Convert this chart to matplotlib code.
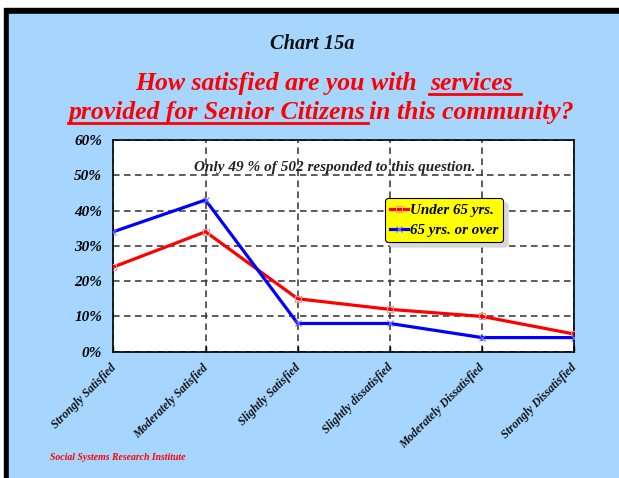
import numpy as np
import matplotlib
matplotlib.use("Agg")
import matplotlib.pyplot as plt
from matplotlib.patches import Rectangle
from matplotlib.transforms import ScaledTranslation

# Datos
categorias = ["Strongly Satisfied", "Moderately Satisfied", "Slightly Satisfied",
              "Slightly dissatisfied", "Moderately Dissatisfied", "Strongly Dissatisfied"]
menores_65 = [24, 34, 15, 12, 10, 5]
mayores_65 = [34, 43, 8, 8, 4, 4]
y_ticks = [0, 10, 20, 30, 40, 50, 60]

FAM = "Liberation Serif"
AZUL = "#a6d5fe"
W, H = 619, 478

fig = plt.figure(figsize=(W / 100, H / 100), dpi=100, facecolor="white")

# marco negro y fondo azul
fig.patches.append(Rectangle((4 / W, 0), 1 - 4 / W, (H - 8) / H,
                             transform=fig.transFigure, color="black", zorder=-2))
fig.patches.append(Rectangle((9 / W, 0), 1 - 9 / W, (H - 14) / H,
                             transform=fig.transFigure, color=AZUL, zorder=-1))

ax = fig.add_axes([113.3 / W, (H - 351.7) / H, (574.3 - 113.3) / W, (351.7 - 140) / H])
ax.set_facecolor("white")

x = np.arange(len(categorias))
ax.plot(x, menores_65, color="#ff0000", lw=2.3, marker="s", ms=5, mfc="none",
        mec="#ff9090", mew=0.8, label="Under 65 yrs.", zorder=3)
ax.plot(x, mayores_65, color="#0000ff", lw=2.3, marker="x", ms=5,
        mec="#7070ff", mew=0.8, label="65 yrs. or over", zorder=3)

ax.set_xlim(0, len(categorias) - 1)
ax.set_ylim(0, 60)
ax.set_yticks(y_ticks)
ax.set_yticklabels([f"{v}%" for v in y_ticks], fontfamily=FAM, fontweight="bold",
                   fontstyle="italic", fontsize=11)
ax.set_xticks(x)
ax.set_xticklabels([])
ax.tick_params(axis="x", direction="in", length=4, width=1)
ax.tick_params(axis="y", length=0, pad=8)

# etiquetas del eje x giradas
off = ScaledTranslation(5 / 100, -10 / 100, fig.dpi_scale_trans)
for xi, cat in zip(x, categorias):
    ax.text(xi, 0, cat, transform=ax.get_xaxis_transform() + off, rotation=45,
            ha="right", va="top", fontfamily=FAM, fontweight="bold",
            fontstyle="italic", fontsize=8.5, color="#111111")

ax.grid(True, color="#303030", lw=1.1, linestyle=(0, (4.3, 2.9)))
ax.set_axisbelow(True)
for s in ax.spines.values():
    s.set_color("black")
    s.set_linewidth(1.2)

leg = ax.legend(loc="upper left", bbox_to_anchor=(0.589, 0.726), frameon=True,
                fancybox=True, facecolor="#ffff00", edgecolor="black", framealpha=1,
                shadow={"color": "#d8d8d8", "ox": 3.5, "oy": -3.5, "alpha": 1},
                handlelength=1.2, handletextpad=0.1, borderpad=0.35, labelspacing=0.45,
                borderaxespad=0,
                prop={"family": FAM, "weight": "bold", "style": "italic", "size": 10.8})
leg.get_frame().set_linewidth(0.8)

ax.text(0.481, 0.868, "Only 49 % of 502 responded to this question.", transform=ax.transAxes,
        ha="center", va="center", fontfamily=FAM, fontweight="bold", fontstyle="italic",
        fontsize=11, color="#222222")

# títulos
fig.text(312 / W, 1 - 44 / H, "Chart 15a", ha="center", va="center", fontfamily=FAM,
         fontweight="bold", fontstyle="italic", fontsize=14.7, color="#111111")

tprops = dict(fontfamily=FAM, fontweight="bold", fontstyle="italic", fontsize=18.5,
              color="#ff0000", va="baseline", ha="left")
renderer = fig.canvas.get_renderer()


def ancho(s):
    t = fig.text(0, 0, s, **tprops)
    w = t.get_window_extent(renderer).width
    t.remove()
    return w


esp = ancho("a a") - ancho("aa")


def linea(piezas, x0, base_y):
    # piezas: (texto, subrayado, espacio_despues, extension_subrayado)
    xi = x0
    for s, sub, gap, ext in piezas:
        w = ancho(s)
        fig.text(xi / W, 1 - base_y / H, s, **tprops)
        if sub:
            yu = 1 - (base_y + 4) / H
            fig.add_artist(plt.Line2D([(xi - 1) / W, (xi + w + ext) / W], [yu, yu],
                                      transform=fig.transFigure, color="#ff0000", lw=2))
        xi += w + gap * esp


linea([("How satisfied are you with", False, 2, 0), ("services", True, 0, 9)], 135, 90)
linea([("provided for Senior Citizens", True, 0.45, 2), ("in this community?", False, 0, 0)],
      69, 119)

fig.text(50 / W, 1 - 460 / H, "Social Systems Research Institute", ha="left", va="baseline",
         fontfamily=FAM, fontweight="bold", fontstyle="italic", fontsize=7, color="#ff0000")

fig.savefig("out.png", dpi=100, facecolor=fig.get_facecolor())
